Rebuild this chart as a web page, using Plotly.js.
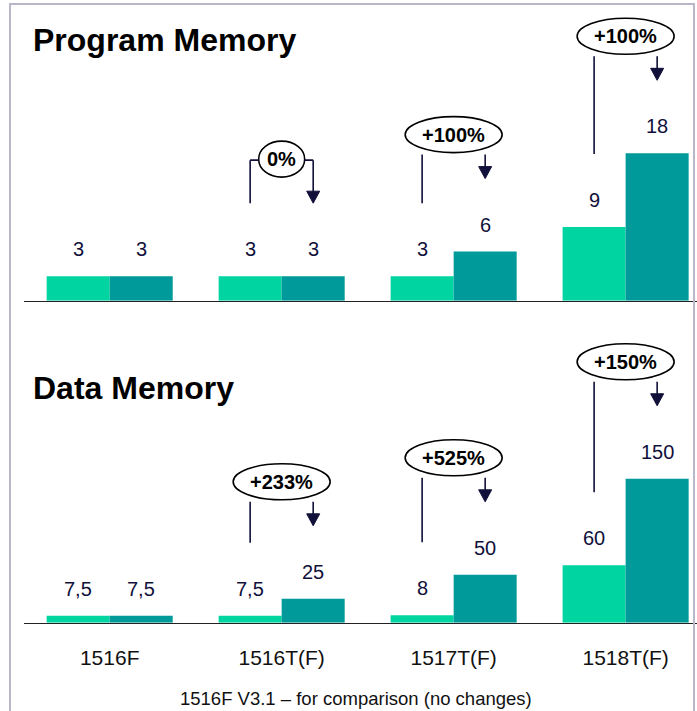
<!DOCTYPE html>
<html>
<head>
<meta charset="utf-8">
<script src="https://cdn.plot.ly/plotly-3.0.1.min.js"></script>
<style>
  html, body { margin: 0; padding: 0; background: #fff; }
  #chart { width: 697px; height: 711px; }
</style>
</head>
<body>
<div id="chart"></div>
<script>
const CATEGORIES = ["1516F", "1516T(F)", "1517T(F)", "1518T(F)"];

const programOld = [3, 3, 3, 9];
const programNew = [3, 3, 6, 18];
const programChange = ["", "0%", "+100%", "+100%"];

const dataOld = [7.5, 7.5, 8, 60];
const dataNew = [7.5, 25, 50, 150];
const dataChange = ["", "+233%", "+525%", "+150%"];

const W = 697;
const H = 711;
const FONT = "Liberation Sans, Arial, sans-serif";
const LIGHT = "#00d4a0";
const TEAL = "#009a9a";
const INK = "#10103a";
const BARGAP = 0.267;

const X_DOMAIN = [0.034, 1];
const X_RANGE = [-0.5, 3.415];
const PANELS = [
  { title: "Program Memory", old: programOld, neu: programNew, change: programChange,
    xref: "x", yref: "y", domain: [0.577, 0.986], range: [0, 35.5], titleY: 40 },
  { title: "Data Memory", old: dataOld, neu: dataNew, change: dataChange,
    xref: "x2", yref: "y2", domain: [0.124, 0.536], range: [0, 305], titleY: 388 },
];

const ppx = (W * (X_DOMAIN[1] - X_DOMAIN[0])) / (X_RANGE[1] - X_RANGE[0]);
const half = (1 - BARGAP) / 4; // offset of each bar centre from the category
const fmt = (v) => String(v).replace(".", ",");

const traces = [];
const annotations = [];
const shapes = [];
const lineStyle = { color: INK, width: 1.6 };

PANELS.forEach((p) => {
  const ppy = (H * (p.domain[1] - p.domain[0])) / (p.range[1] - p.range[0]);
  const dy = (px) => px / ppy;
  const dx = (px) => px / ppx;
  const xs = CATEGORIES.map((_, i) => i);

  traces.push(
    { type: "bar", x: xs, y: p.old, xaxis: p.xref, yaxis: p.yref,
      marker: { color: LIGHT }, hoverinfo: "skip", showlegend: false },
    { type: "bar", x: xs, y: p.neu, xaxis: p.xref, yaxis: p.yref,
      marker: { color: TEAL }, hoverinfo: "skip", showlegend: false }
  );

  annotations.push({
    xref: "paper", yref: "paper", x: 31 / W, y: 1 - p.titleY / H,
    xanchor: "left", yanchor: "middle", showarrow: false,
    text: "<b>" + p.title + "</b>", font: { family: FONT, size: 32, color: "#000" },
  });

  xs.forEach((i) => {
    [[i - half, p.old[i]], [i + half, p.neu[i]]].forEach(([x, v]) => {
      annotations.push({
        xref: p.xref, yref: p.yref, x, y: v, yshift: 27, yanchor: "middle",
        showarrow: false, text: fmt(v), font: { family: FONT, size: 20, color: INK },
      });
    });

    const label = p.change[i];
    if (!label) return;
    const lx = i - half;
    const tx = i + half;
    const cy = p.neu[i] + dy(117);
    const halfW = 6 + 8.5 * label.length;
    const ew = dx(halfW);
    const bottom = cy - dy(18);
    const tip = p.neu[i] + dy(73);
    const connector = halfW < half * ppx;
    const topY = connector ? cy - dy(1) : bottom - dy(2);

    shapes.push({
      type: "circle", xref: p.xref, yref: p.yref,
      x0: i - ew, x1: i + ew, y0: cy - dy(18), y1: cy + dy(18),
      line: { color: "#000", width: 1.6 }, fillcolor: "rgba(255,255,255,0)",
    });
    annotations.push({
      xref: p.xref, yref: p.yref, x: i, y: cy, yanchor: "middle", showarrow: false,
      text: "<b>" + label + "</b>", font: { family: FONT, size: 20, color: "#000" },
    });

    // left leg over the old bar
    shapes.push({ type: "line", xref: p.xref, yref: p.yref,
      x0: lx, x1: lx, y0: p.old[i] + dy(73), y1: topY, line: lineStyle });
    // arrow shaft and head over the new bar
    shapes.push({ type: "line", xref: p.xref, yref: p.yref,
      x0: tx, x1: tx, y0: tip + dy(10), y1: topY, line: lineStyle });
    shapes.push({
      type: "path", xref: p.xref, yref: p.yref, fillcolor: INK, line: { color: INK, width: 1 },
      path: `M${tx - dx(6.5)},${tip + dy(12)} L${tx + dx(6.5)},${tip + dy(12)} L${tx},${tip} Z`,
    });
    if (connector) {
      shapes.push({ type: "line", xref: p.xref, yref: p.yref,
        x0: lx, x1: i - ew, y0: topY, y1: topY, line: lineStyle });
      shapes.push({ type: "line", xref: p.xref, yref: p.yref,
        x0: i + ew, x1: tx, y0: topY, y1: topY, line: lineStyle });
    }
  });
});

annotations.push({
  xref: "paper", yref: "paper", x: 356 / W, y: 1 - 698 / H,
  xanchor: "center", yanchor: "middle", showarrow: false,
  text: "1516F V3.1 \u2013 for comparison (no changes)",
  font: { family: FONT, size: 18.5, color: "#111" },
});

shapes.push({
  type: "rect", xref: "paper", yref: "paper",
  x0: 10 / W, x1: 694 / W, y0: -0.05, y1: 1 - 4 / H,
  line: { color: "#b8b8c8", width: 2 },
});

const xBase = {
  domain: X_DOMAIN, range: X_RANGE, showgrid: false, zeroline: false,
  showline: true, linecolor: "#222", linewidth: 1.2, ticks: "",
  fixedrange: true,
};
const yBase = {
  showgrid: false, zeroline: false, showline: false, showticklabels: false,
  ticks: "", fixedrange: true,
};

const layout = {
  width: W, height: H,
  margin: { l: 0, r: 0, t: 0, b: 0 },
  paper_bgcolor: "#fff", plot_bgcolor: "rgba(0,0,0,0)",
  barmode: "group", bargap: BARGAP, bargroupgap: 0,
  showlegend: false,
  font: { family: FONT },
  xaxis: { ...xBase, anchor: "y", showticklabels: false },
  yaxis: { ...yBase, anchor: "x", domain: PANELS[0].domain, range: PANELS[0].range },
  xaxis2: {
    ...xBase, anchor: "y2", showticklabels: true,
    tickmode: "array", tickvals: CATEGORIES.map((_, i) => i), ticktext: CATEGORIES,
    tickfont: { family: FONT, size: 21, color: "#111" }, ticklabelstandoff: 16,
  },
  yaxis2: { ...yBase, anchor: "x2", domain: PANELS[1].domain, range: PANELS[1].range },
  annotations, shapes,
};

Plotly.newPlot("chart", traces, layout, { displayModeBar: false, staticPlot: true });
</script>
</body>
</html>
